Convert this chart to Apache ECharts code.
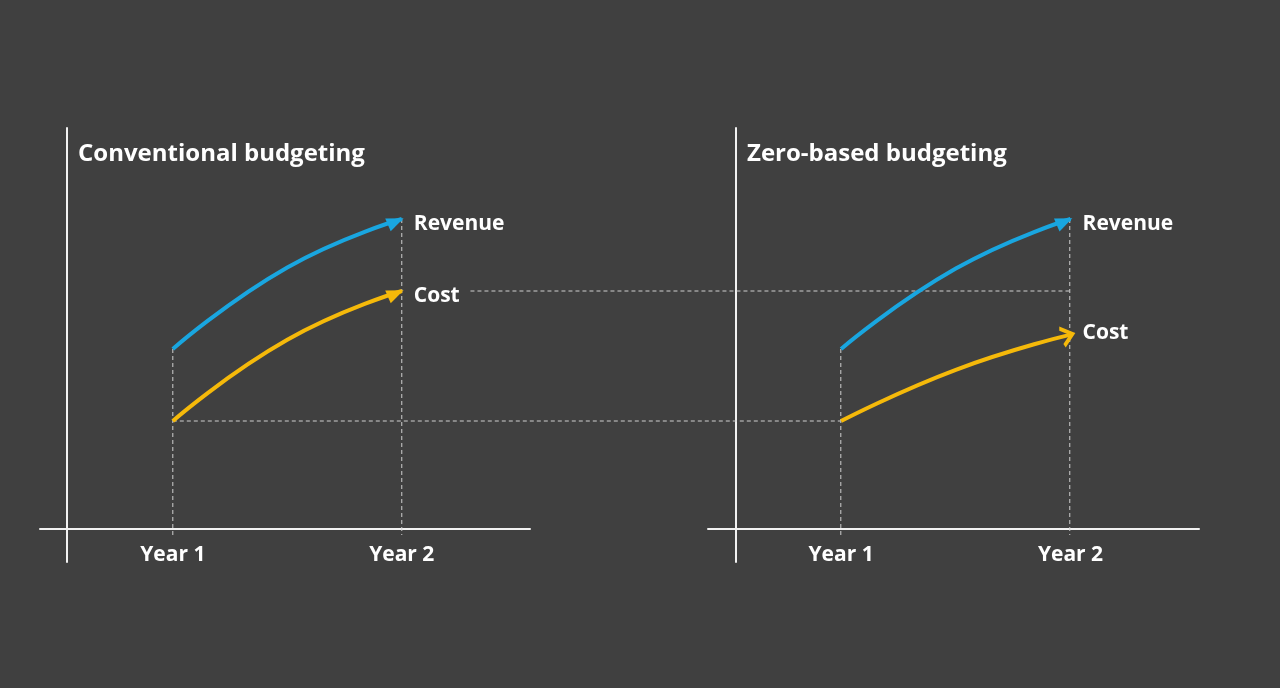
<!DOCTYPE html>
<html>
<head>
<meta charset="utf-8">
<script src="https://cdn.jsdelivr.net/npm/echarts@6/dist/echarts.min.js"></script>
<style>
  html, body { margin: 0; padding: 0; background: #404040; }
  #chart { width: 1280px; height: 688px; }
</style>
</head>
<body>
<div id="chart"></div>
<script>
// ---- data ----
var panelTitles = ['Conventional budgeting', 'Zero-based budgeting'];
var yearLabels = ['Year 1', 'Year 2'];
var yearX = [1, 2];
var seriesNames = ['Revenue', 'Cost'];

// [year position, value]
var convRevenue = [[1, 45], [1.5, 65.4], [2, 77.5]];
var convCost    = [[1, 27], [1.5, 47.3], [2, 59.5]];
var zbbRevenue  = [[1, 45], [1.5, 65.1], [2, 77.5]];
var zbbCost     = [[1, 27], [1.5, 39.8], [2, 48.6]];

// ---- layout ----
var BLUE = '#19A6E0', GOLD = '#F5B90A', FONT = 'Open Sans';
var xMin = 0.42, xMax = 2.56, yMin = -8.25, yMax = 100.25;
var gridW = 490, gridTop = 128, gridBottom = 126;
var panelLeft = [40, 708];
var axisInset = [27, 28];
var unit = gridW / (xMax - xMin);
var shift2 = (panelLeft[1] - panelLeft[0]) / unit;
var overlayW = panelLeft[1] + gridW + 1 - panelLeft[0];
var guideStart = 2.3;   // where the level line leaves the "Cost" label

var chart = echarts.init(document.getElementById('chart'));

var grids = panelLeft.map(function (l, i) {
  return { left: l, width: gridW + i, top: gridTop, bottom: gridBottom };
});
grids.push({ left: panelLeft[0], width: overlayW, top: gridTop, bottom: gridBottom });

var xAxes = panelLeft.map(function (l, i) {
  return {
    type: 'value', gridIndex: i, min: xMin, max: xMax,
    axisLine: { onZero: true, lineStyle: { color: '#f2f2f2', width: 2 } },
    axisTick: { show: false },
    splitLine: { show: false },
    axisLabel: {
      customValues: yearX, margin: -17,
      color: '#ffffff', fontSize: 21, fontWeight: 'bold', fontFamily: FONT,
      formatter: function (v) { return yearLabels[yearX.indexOf(v)]; }
    }
  };
});
xAxes.push({ type: 'value', gridIndex: 2, min: xMin, max: xMin + overlayW / unit, show: false });

var yAxes = panelLeft.map(function (l, i) {
  return {
    type: 'value', gridIndex: i, min: yMin, max: yMax, offset: -axisInset[i],
    axisLine: { show: true, onZero: false, lineStyle: { color: '#f2f2f2', width: 2 } },
    axisTick: { show: false }, axisLabel: { show: false }, splitLine: { show: false }
  };
});
yAxes.push({ type: 'value', gridIndex: 2, min: yMin, max: yMax, show: false });

function curve(name, data, color, grid, openHead, labelDy) {
  var pts = data.map(function (d) { return d.slice(); });
  var last = pts.length - 1;
  return {
    type: 'line', name: name, xAxisIndex: grid, yAxisIndex: grid,
    smooth: 0.5, symbol: 'none', showSymbol: true, z: 5,
    lineStyle: { color: color, width: 4 },
    itemStyle: { color: color },
    data: pts.map(function (p, k) {
      if (k !== last) return { value: p };
      return {
        value: p,
        symbol: openHead ? 'path://M0,12 L8,0 L16,12' : 'triangle',
        symbolSize: openHead ? [18, 11] : [14, 17],
        itemStyle: openHead ? { color: 'none', borderColor: color, borderWidth: 3.5 } : { color: color }
      };
    }),
    endLabel: {
      show: true, formatter: '{a}', distance: 12, offset: [0, labelDy],
      color: '#ffffff', fontSize: 21, fontWeight: 'bold', fontFamily: FONT
    },
    emphasis: { disabled: true }
  };
}

function guide(points) {
  return {
    type: 'line', xAxisIndex: 2, yAxisIndex: 2, symbol: 'none', z: 1,
    lineStyle: { color: '#cfcfcf', width: 1, type: [4, 3] },
    data: points, silent: true
  };
}

var below = -1.5;
var panels = [[convRevenue, convCost], [zbbRevenue, zbbCost]];
var guides = [];
panels.forEach(function (p, i) {
  var s = i === 0 ? 0 : shift2;
  guides.push(guide([[yearX[0] + s, p[0][0][1]], [yearX[0] + s, below]]));
  guides.push(guide([[yearX[1] + s, p[0][p[0].length - 1][1]], [yearX[1] + s, below]]));
});
guides.push(guide([[yearX[0], convCost[0][1]], [yearX[0] + shift2, convCost[0][1]]]));
guides.push(guide([[guideStart, convCost[convCost.length - 1][1]], [yearX[1] + shift2, convCost[convCost.length - 1][1]]]));

var curves = [
  curve(seriesNames[0], convRevenue, BLUE, 0, false, 5),
  curve(seriesNames[1], convCost, GOLD, 0, false, 5),
  curve(seriesNames[0], zbbRevenue, BLUE, 1, false, 5),
  curve(seriesNames[1], zbbCost, GOLD, 1, true, -2)
];

chart.setOption({
  backgroundColor: '#404040',
  animation: false,
  title: panelTitles.map(function (t, i) {
    return {
      text: t, left: panelLeft[i] + axisInset[i] + 11, top: 138, padding: 0,
      textStyle: { color: '#ffffff', fontSize: 24, fontWeight: 'bold', fontFamily: FONT, lineHeight: 32 }
    };
  }),
  grid: grids,
  xAxis: xAxes,
  yAxis: yAxes,
  series: guides.concat(curves)
});

// orient the arrow heads along the end of each curve
var heads = curves.map(function (c) {
  var g = c.xAxisIndex;
  var n = c.data.length;
  var a = chart.convertToPixel({ gridIndex: g }, c.data[n - 2].value);
  var b = chart.convertToPixel({ gridIndex: g }, c.data[n - 1].value);
  var dx = b[0] - a[0], dy = b[1] - a[1];
  var len = Math.sqrt(dx * dx + dy * dy);
  var ux = dx / len, uy = dy / len;
  var rot = Math.atan2(-dy, dx) * 180 / Math.PI - 90;
  var h = c.data[n - 1].symbolSize[1];
  var back = h / 2 - 2;
  c.data[n - 1].symbolRotate = rot;
  c.data[n - 1].symbolOffset = [-ux * back, -uy * back];
  return c;
});
chart.setOption({ series: guides.concat(heads) });
</script>
</body>
</html>
